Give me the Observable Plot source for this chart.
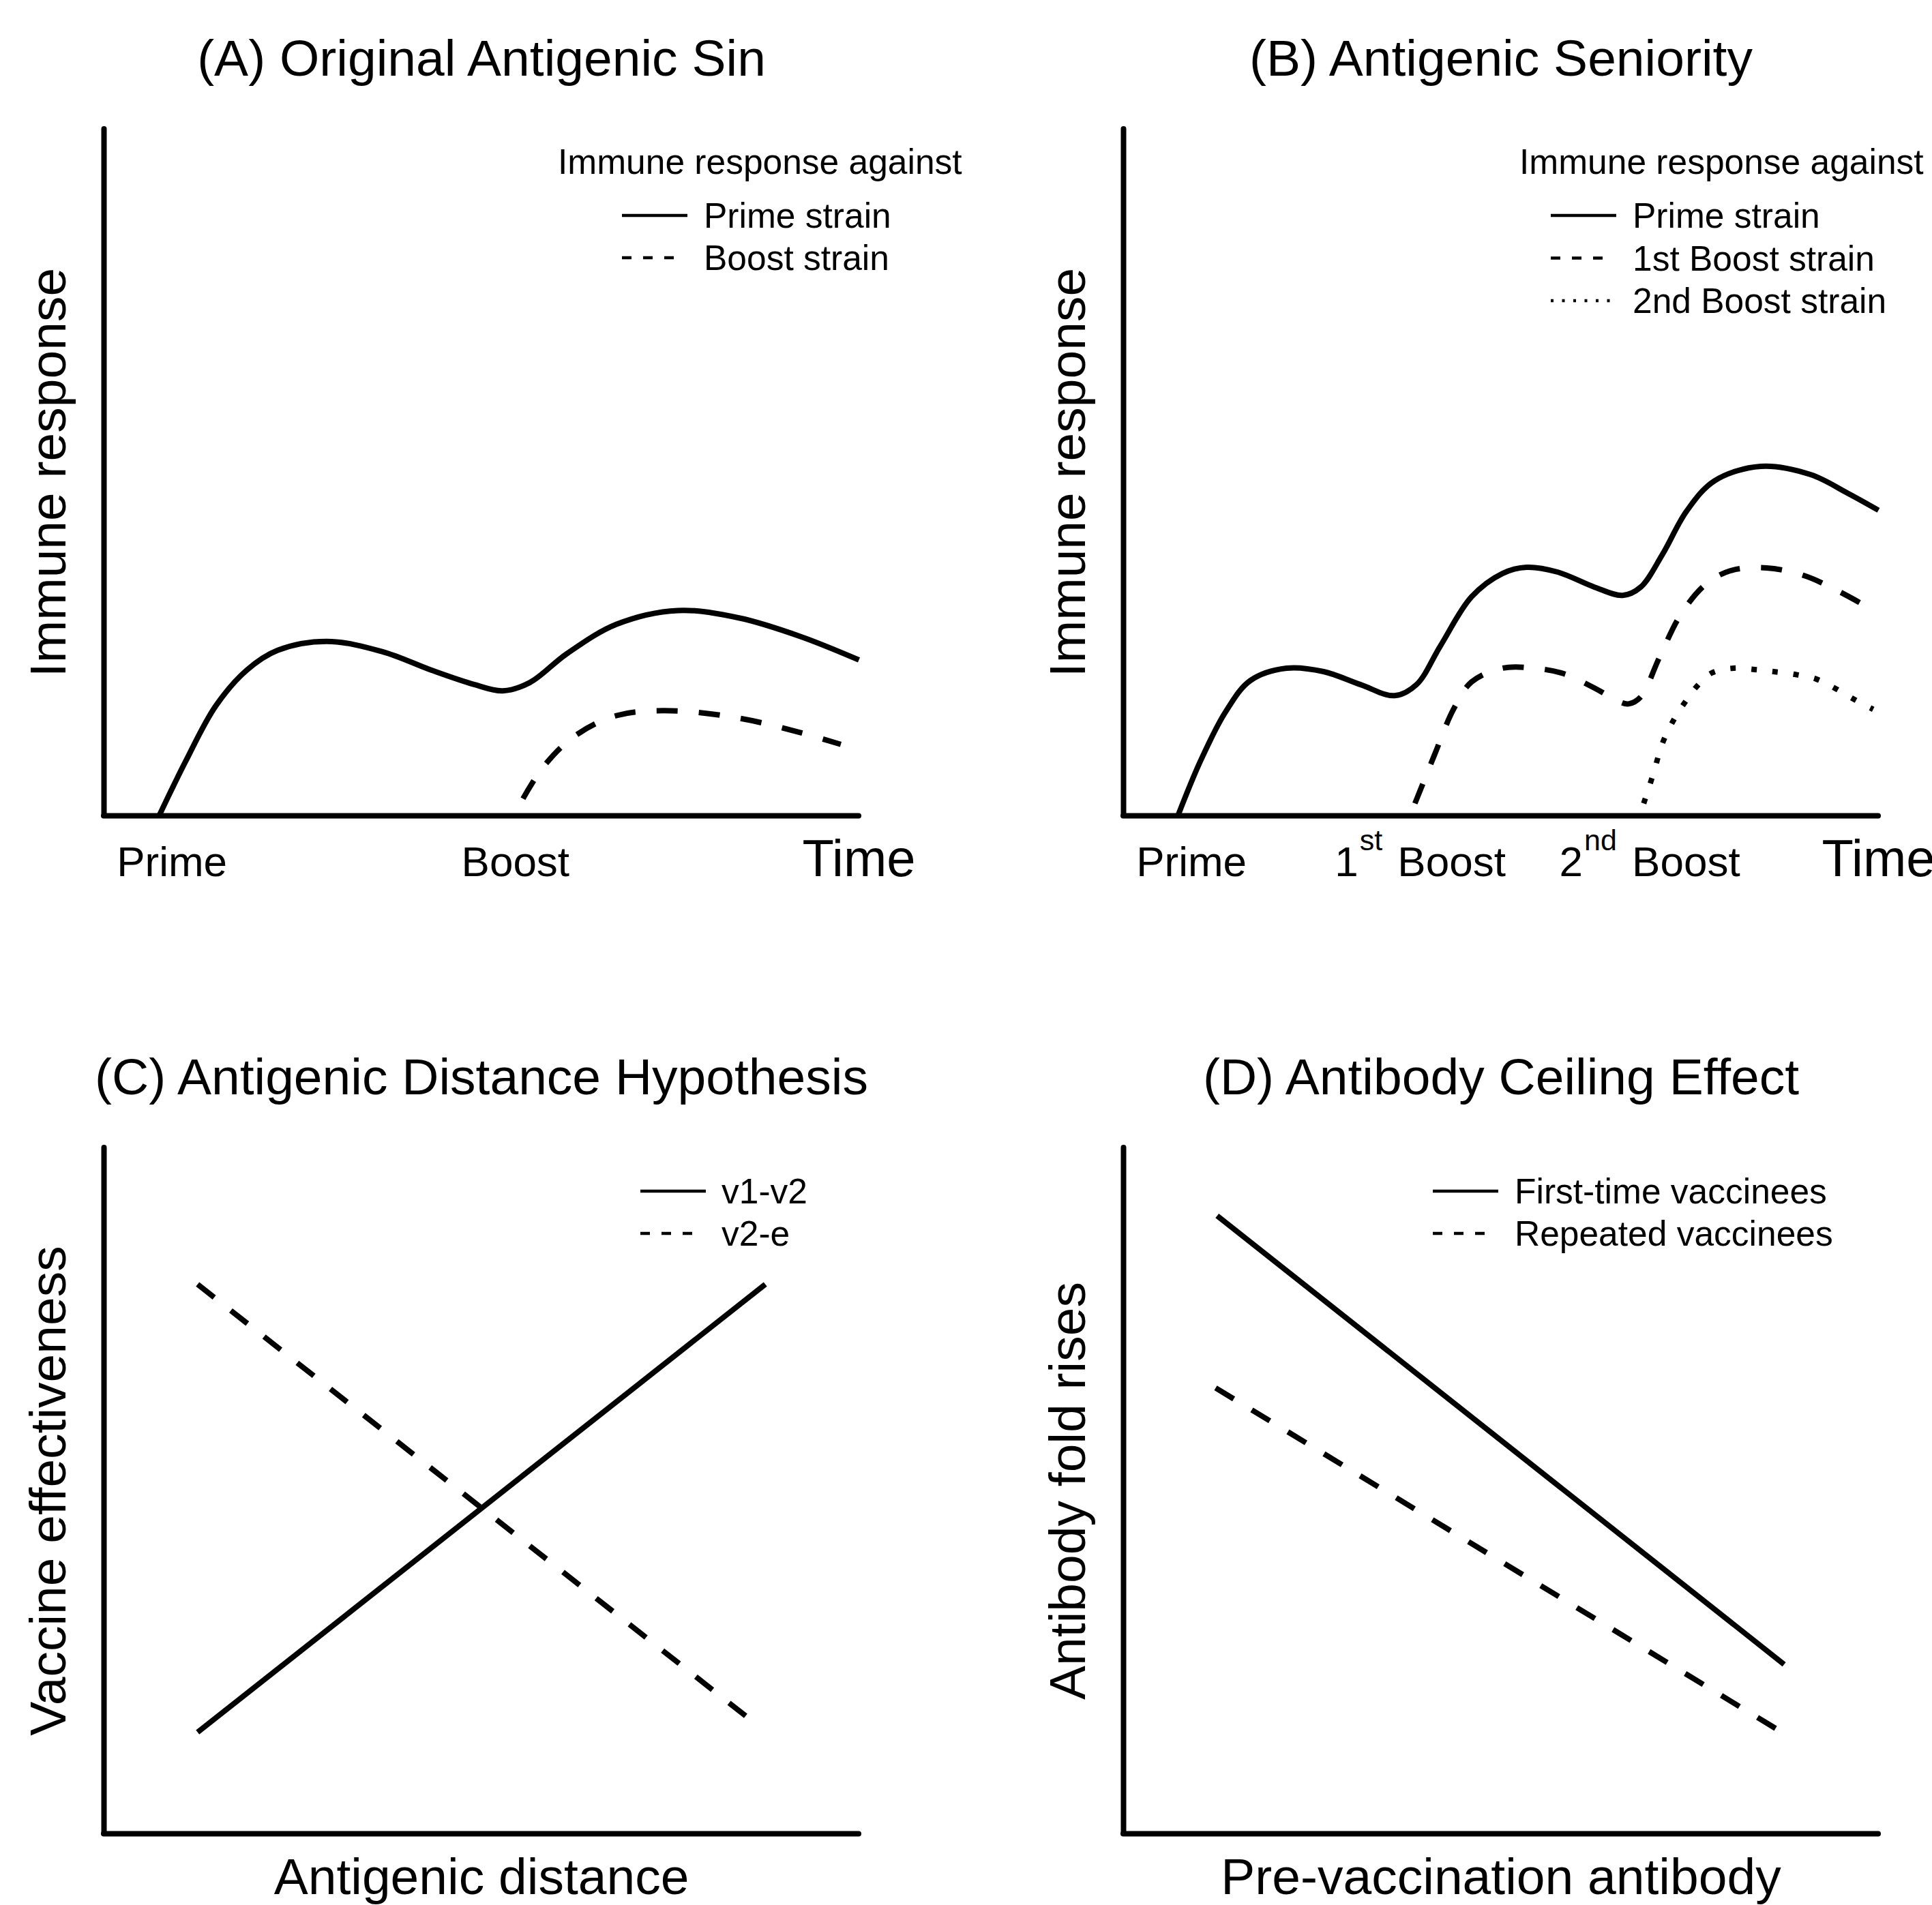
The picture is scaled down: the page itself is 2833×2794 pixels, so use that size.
<!DOCTYPE html>
<html>
<head>
<meta charset="utf-8">
<script src="https://cdn.jsdelivr.net/npm/d3@7"></script>
<script src="https://cdn.jsdelivr.net/npm/@observablehq/plot@0.6"></script>
<style>
  html, body { margin: 0; padding: 0; background: #fff; overflow: hidden; }
  #root { position: relative; width: 2833px; height: 2794px; overflow: hidden; background: #fff; }
  .panel { position: absolute; }
</style>
</head>
<body>
<div id="root"></div>
<script>
// ---------------- DATA ----------------
// Panel A: Original Antigenic Sin
const aTitle = "(A) Original Antigenic Sin";
const aYTitle = "Immune response";
const aXTitle = "Time";
const aTickX = [9.0, 54.5];
const aTickLabels = ["Prime", "Boost"];
const aPrimeX = [7.3, 10.8, 14.8, 18.9, 23.0, 29.5, 36.9, 43.4, 49.1, 52.8, 56.4, 61.3, 67.9, 76.0, 84.2, 92.3, 100];
const aPrimeY = [0, 7.9, 16.0, 21.2, 24.1, 25.4, 23.9, 21.2, 19.1, 18.2, 19.4, 23.6, 27.9, 29.9, 28.8, 26.1, 22.7];
const aBoostX = [55.5, 58.1, 62.2, 67.9, 75.2, 84.2, 92.3, 97.6];
const aBoostY = [2.5, 7.0, 11.5, 14.6, 15.3, 14.2, 12.1, 10.4];
const aLegendTitle = "Immune response against";
const aLegendLabels = ["Prime strain", "Boost strain"];

// Panel B: Antigenic Seniority
const bTitle = "(B) Antigenic Seniority";
const bYTitle = "Immune response";
const bXTitle = "Time";
const bTickX = [9.0, 39.3, 69.7];
const bTickLabels = ["Prime", "1st Boost", "2nd Boost"];
const bPrimeX = [7.2, 10.2, 13.5, 16.8, 21.6, 26.5, 31.4, 35.9, 38.8, 42.0, 46.1, 50.2, 53.4, 57.5, 62.4, 66.1, 68.5, 71.4, 74.6, 78.3, 84.4, 91.0, 95.9, 100];
const bPrimeY = [0, 8.0, 15.1, 19.7, 21.5, 21.0, 19.1, 17.5, 19.1, 24.8, 31.9, 35.3, 36.2, 35.5, 33.3, 32.1, 33.3, 38.1, 44.4, 48.8, 50.9, 49.7, 47.0, 44.5];
const bBoost1X = [38.6, 41.2, 43.7, 46.1, 50.2, 54.3, 58.3, 62.4, 65.7, 66.9, 68.5, 71.0, 73.8, 77.1, 80.4, 85.2, 90.1, 94.2, 97.6];
const bBoost1Y = [1.8, 8.9, 15.5, 19.5, 21.5, 21.5, 20.7, 18.6, 16.6, 16.3, 17.3, 23.1, 29.3, 33.7, 35.7, 36.1, 35.0, 33.0, 31.0];
const bBoost2X = [68.9, 70.2, 71.4, 73.0, 74.6, 75.9, 77.9, 80.8, 83.6, 86.1, 88.9, 91.8, 94.2, 96.7, 99.3];
const bBoost2Y = [1.8, 6.2, 10.6, 14.2, 16.9, 18.8, 20.8, 21.5, 21.3, 21.0, 20.6, 19.9, 18.6, 17.0, 15.5];
const bLegendTitle = "Immune response against";
const bLegendLabels = ["Prime strain", "1st Boost strain", "2nd Boost strain"];

// Panel C: Antigenic Distance Hypothesis
const cTitle = "(C) Antigenic Distance Hypothesis";
const cYTitle = "Vaccine effectiveness";
const cXTitle = "Antigenic distance";
const cV1V2X = [12.4, 87.6];
const cV1V2Y = [14.8, 80.1];
const cV2EX = [12.4, 85.2];
const cV2EY = [80.1, 17.0];
const cLegendLabels = ["v1-v2", "v2-e"];

// Panel D: Antibody Ceiling Effect
const dTitle = "(D) Antibody Ceiling Effect";
const dYTitle = "Antibody fold rises";
const dXTitle = "Pre-vaccination antibody";
const dFirstX = [12.4, 87.5];
const dFirstY = [90.1, 24.7];
const dRepeatX = [12.2, 86.6];
const dRepeatY = [65.0, 15.2];
const dLegendLabels = ["First-time vaccinees", "Repeated vaccinees"];

// ---------------- STYLE ----------------
const FONT = '"Liberation Sans", Arial, Helvetica, sans-serif';
const W = 2833, H = 2794;
const PW = 1495, PH = 1494;
const COL = 1495, ROW = 1494;
const DASH = {solid: null, dashed: "31,31", dotted: "8,23"};
const LEG_DASH = {solid: null, dashed: "14,17,14,17,14,200", dotted: "4,12.5"};
const TITLE_SIZE = 75, AXIS_TITLE_SIZE = 75, TIME_SIZE = 76, TICK_SIZE = 62, LEGEND_SIZE = 51.5;

function rows(xs, ys) { return xs.map((x, i) => ({x, y: ys[i]})); }
function labelRows(xs, labels) { return xs.map((x, i) => ({x, label: labels[i]})); }

function makePanel(cfg) {
  const marks = [
    Plot.ruleY([0], {stroke: "black", strokeWidth: 8, strokeLinecap: "round"}),
    Plot.ruleX([0], {stroke: "black", strokeWidth: 8, strokeLinecap: "round"})
  ];
  for (const s of cfg.series) {
    marks.push(Plot.line(rows(s.x, s.y), {
      x: "x", y: "y", curve: s.curve || "catmull-rom",
      stroke: "black", strokeWidth: 8,
      strokeDasharray: DASH[s.type], strokeLinecap: "butt", strokeLinejoin: "round"
    }));
  }
  marks.push(Plot.text([cfg.title], {frameAnchor: "top", textAnchor: "middle", lineAnchor: "bottom", dy: -79, fontSize: TITLE_SIZE, fontFamily: FONT, fill: "black"}));
  marks.push(Plot.text([cfg.ytitle], {frameAnchor: "left", textAnchor: "middle", lineAnchor: "bottom", rotate: -90, dx: -57, fontSize: AXIS_TITLE_SIZE, fontFamily: FONT, fill: "black"}));
  if (cfg.tickX) {
    marks.push(Plot.text(labelRows(cfg.tickX, cfg.tickLabels), {x: "x", text: "label", frameAnchor: "bottom", textAnchor: "middle", lineAnchor: "bottom", dy: 88, fontSize: TICK_SIZE, fontFamily: FONT, fill: "black"}));
    marks.push(Plot.text([cfg.xtitle], {frameAnchor: "bottom-right", textAnchor: "middle", lineAnchor: "bottom", dy: 88, fontSize: TIME_SIZE, fontFamily: FONT, fill: "black"}));
  } else {
    marks.push(Plot.text([cfg.xtitle], {frameAnchor: "bottom", textAnchor: "middle", lineAnchor: "bottom", dy: 88, fontSize: AXIS_TITLE_SIZE, fontFamily: FONT, fill: "black"}));
  }
  return Plot.plot({
    width: PW, height: PH,
    marginLeft: 152, marginRight: 236, marginTop: 189, marginBottom: cfg.marginBottom,
    x: {domain: [0, 100], axis: null},
    y: {domain: [0, 100], axis: null},
    style: {fontFamily: FONT, background: "transparent", overflow: "visible"},
    marks
  });
}

function superscriptify(svg) {
  const NS = "http://www.w3.org/2000/svg";
  svg.querySelectorAll("text").forEach(t => {
    const m = /^(\d+)(st|nd|rd|th) (.+)$/.exec(t.textContent);
    if (!m) return;
    t.textContent = "";
    const a = document.createElementNS(NS, "tspan"); a.textContent = m[1];
    const b = document.createElementNS(NS, "tspan"); b.textContent = m[2];
    b.setAttribute("font-size", "43"); b.setAttribute("dy", "-38"); b.setAttribute("dx", "2");
    const c = document.createElementNS(NS, "tspan"); c.textContent = " " + m[3];
    c.setAttribute("dy", "38"); c.setAttribute("dx", "5");
    t.append(a, b, c);
  });
}

const root = document.getElementById("root");
function place(node, left, top) {
  node.classList.add("panel");
  node.style.left = left + "px";
  node.style.top = top + "px";
  root.appendChild(node);
  return node;
}

const panelA = makePanel({
  title: aTitle, ytitle: aYTitle, xtitle: aXTitle, tickX: aTickX, tickLabels: aTickLabels, marginBottom: 298,
  series: [{x: aPrimeX, y: aPrimeY, type: "solid"}, {x: aBoostX, y: aBoostY, type: "dashed"}]
});
const panelB = makePanel({
  title: bTitle, ytitle: bYTitle, xtitle: bXTitle, tickX: bTickX, tickLabels: bTickLabels, marginBottom: 298,
  series: [{x: bPrimeX, y: bPrimeY, type: "solid"}, {x: bBoost1X, y: bBoost1Y, type: "dashed"}, {x: bBoost2X, y: bBoost2Y, type: "dotted"}]
});
superscriptify(panelB);
const panelC = makePanel({
  title: cTitle, ytitle: cYTitle, xtitle: cXTitle, marginBottom: 299,
  series: [{x: cV1V2X, y: cV1V2Y, type: "solid", curve: "linear"}, {x: cV2EX, y: cV2EY, type: "dashed", curve: "linear"}]
});
const panelD = makePanel({
  title: dTitle, ytitle: dYTitle, xtitle: dXTitle, marginBottom: 299,
  series: [{x: dFirstX, y: dFirstY, type: "solid", curve: "linear"}, {x: dRepeatX, y: dRepeatY, type: "dashed", curve: "linear"}]
});
place(panelA, 0, 0);
place(panelB, COL, 0);
place(panelC, 0, ROW);
place(panelD, COL, ROW);

// ---------------- LEGENDS ----------------
const legendSvg = d3.select(root).append("svg")
  .attr("width", W).attr("height", H)
  .style("position", "absolute").style("left", "0px").style("top", "0px")
  .attr("font-family", FONT).attr("font-size", LEGEND_SIZE);

function drawLegend(spec) {
  const g = legendSvg.append("g");
  if (spec.title) g.append("text").attr("x", spec.titleX).attr("y", spec.titleY).attr("fill", "black").text(spec.title);
  spec.labels.forEach((lab, i) => {
    const cy = spec.rowY + i * spec.rowStep;
    const ln = g.append("line")
      .attr("x1", spec.lineX).attr("x2", spec.lineX + spec.lineLen)
      .attr("y1", cy).attr("y2", cy)
      .attr("stroke", "black").attr("stroke-width", 4.5);
    if (LEG_DASH[spec.types[i]]) ln.attr("stroke-dasharray", LEG_DASH[spec.types[i]]);
    g.append("text").attr("x", spec.textX).attr("y", cy + 18).attr("fill", "black").text(lab);
  });
}

drawLegend({title: aLegendTitle, titleX: 818, titleY: 255, labels: aLegendLabels, types: ["solid", "dashed"],
  lineX: 912, lineLen: 96, textX: 1032, rowY: 316, rowStep: 62});
drawLegend({title: bLegendTitle, titleX: 2228, titleY: 255, labels: bLegendLabels, types: ["solid", "dashed", "dotted"],
  lineX: 2274, lineLen: 96, textX: 2394, rowY: 316, rowStep: 62.5});
drawLegend({labels: cLegendLabels, types: ["solid", "dashed"],
  lineX: 939, lineLen: 96, textX: 1058, rowY: 1747, rowStep: 62});
drawLegend({labels: dLegendLabels, types: ["solid", "dashed"],
  lineX: 2101, lineLen: 96, textX: 2221, rowY: 1747, rowStep: 62});
</script>
</body>
</html>
